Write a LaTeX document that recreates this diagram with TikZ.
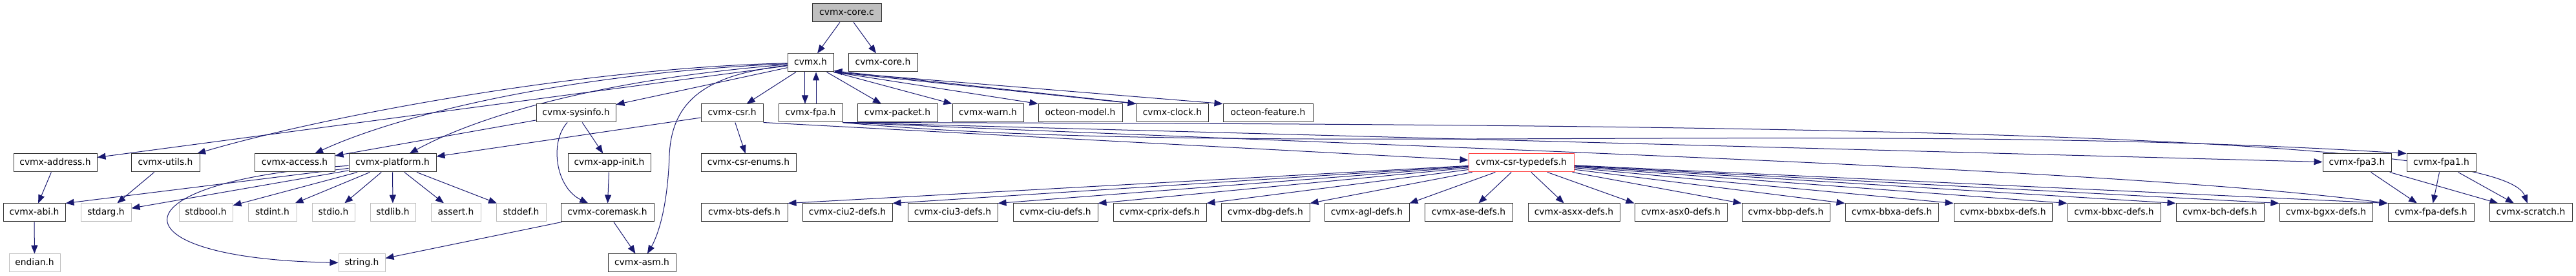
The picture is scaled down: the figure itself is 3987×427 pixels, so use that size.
\documentclass[tikz,border=0pt]{standalone}
\usepackage{fontspec}
\usepackage{xcolor}
\usepackage{tikz}
\usetikzlibrary{arrows.meta,backgrounds}
\newfontfamily\graphfont{DejaVu Sans}
\definecolor{edgeblue}{RGB}{25,25,112}
\definecolor{sysgray}{RGB}{191,191,191}
\definecolor{cutred}{RGB}{255,64,64}

\begin{document}
\begin{tikzpicture}[x=0.75pt, y=-0.75pt,
    file/.style={draw=black!80, fill=white, line width=0.75pt, minimum height=21pt,
      inner sep=0pt, text height=7.6pt, text depth=2.2pt,
      font=\graphfont\fontsize{10.4}{12}\selectfont},
    sysfile/.style={file, draw=sysgray},
    boxw/.style={minimum width=#1*0.75pt},
    inc/.style={draw=edgeblue, line width=0.75pt, -{Triangle[length=9.75pt,width=7.5pt]}}]
    %% one unit = one pixel of the 3987 x 427 graph; rows at y = 20, 97, 175, 252, 329, 407
    \useasboundingbox (0,0) rectangle (3987,427);

    % ---- ROW 0 / ROW 1 ----
    \node[file, boxw=107, fill=sysgray] (corec) at (1310.5,20) {cvmx-core.c};
    \node[file, boxw=71]  (cvmx)  at (1254.5,97) {cvmx.h};
    \node[file, boxw=107] (coreh) at (1366.5,97) {cvmx-core.h};

    % ---- ROW 2 ----
    \node[file, boxw=123] (sysinfo) at (891.5,175)  {cvmx-sysinfo.h};
    \node[file, boxw=96]  (csr)     at (1133,175)   {cvmx-csr.h};
    \node[file, boxw=99]  (fpa)     at (1254.5,175) {cvmx-fpa.h};
    \node[file, boxw=124] (packet)  at (1389,175)   {cvmx-packet.h};
    \node[file, boxw=110] (warn)    at (1529,175)   {cvmx-warn.h};
    \node[file, boxw=130] (model)   at (1672,175)   {octeon-model.h};
    \node[file, boxw=111] (clock)   at (1814.5,175) {cvmx-clock.h};
    \node[file, boxw=139] (feature) at (1962.5,175) {octeon-feature.h};

    % ---- ROW 3 ----
    \node[file, boxw=129] (address)  at (85.5,252)   {cvmx-address.h};
    \node[file, boxw=106] (utils)    at (256,252)    {cvmx-utils.h};
    \node[file, boxw=124] (access)   at (456,252)    {cvmx-access.h};
    \node[file, boxw=135] (platform) at (607.5,252)  {cvmx-platform.h};
    \node[file, boxw=128] (appinit)  at (943,252)    {cvmx-app-init.h};
    \node[file, boxw=147] (enums)    at (1158.5,252) {cvmx-csr-enums.h};
    \node[file, boxw=163, draw=cutred] (typedefs) at (2354.5,252) {cvmx-csr-typedefs.h};
    \node[file, boxw=106] (fpathree) at (3648,252)   {cvmx-fpa3.h};
    \node[file, boxw=107] (fpaone)   at (3778.5,252) {cvmx-fpa1.h};

    % ---- ROW 4 ----
    \node[file, boxw=96]     (abi)      at (53,329)    {cvmx-abi.h};
    \node[sysfile, boxw=78]  (stdarg)   at (164,329)   {stdarg.h};
    \node[sysfile, boxw=83]  (stdbool)  at (318.5,329) {stdbool.h};
    \node[sysfile, boxw=75]  (stdint)   at (421.5,329) {stdint.h};
    \node[sysfile, boxw=66]  (stdio)    at (516,329)   {stdio.h};
    \node[sysfile, boxw=70]  (stdlib)   at (608,329)   {stdlib.h};
    \node[sysfile, boxw=77]  (assert)   at (705.5,329) {assert.h};
    \node[sysfile, boxw=77]  (stddef)   at (806.5,329) {stddef.h};
    \node[file, boxw=144]    (coremask) at (940,329)   {cvmx-coremask.h};
    \foreach \id/\x/\w/\txt in {bts/1152/134/cvmx-bts-defs.h, ciutwo/1311.5/139/cvmx-ciu2-defs.h,
        ciuthree/1474.5/139/cvmx-ciu3-defs.h, ciu/1633.5/131/cvmx-ciu-defs.h,
        cprix/1795/144/cvmx-cprix-defs.h, dbg/1958.5/137/cvmx-dbg-defs.h,
        agl/2115.5/131/cvmx-agl-defs.h, ase/2273/136/cvmx-ase-defs.h,
        asxx/2436/142/cvmx-asxx-defs.h, asxzero/2601.5/143/cvmx-asx0-defs.h,
        bbp/2764/136/cvmx-bbp-defs.h, bbxa/2928/144/cvmx-bbxa-defs.h,
        bbxbx/3100/152/cvmx-bbxbx-defs.h, bbxc/3272/144/cvmx-bbxc-defs.h,
        bch/3436/136/cvmx-bch-defs.h, bgxx/3600/144/cvmx-bgxx-defs.h,
        fpadefs/3762.5/133/cvmx-fpa-defs.h} {
      \node[file, boxw=\w] (\id) at (\x,329) {\txt};
    }
    \node[file, boxw=128] (scratch) at (3917,329) {cvmx-scratch.h};

    % ---- ROW 5 ----
    \node[sysfile, boxw=79] (endian) at (53.5,407)  {endian.h};
    \node[sysfile, boxw=72] (string) at (560,407)   {string.h};
    \node[file, boxw=105]   (asm)    at (993.5,407) {cvmx-asm.h};

    % ---- EDGES ----
    \begin{scope}[on background layer]
    \draw[inc] (corec) -- (cvmx);
    \draw[inc] (corec) -- (coreh);
    % cvmx.h
    \draw[inc] (cvmx) -- (address);
    \draw[inc] (cvmx) .. controls (900,105) and (500,180) .. (utils);
    \draw[inc] (cvmx) .. controls (850,115) and (600,185) .. (access);
    \draw[inc] (cvmx) .. controls (900,125) and (720,190) .. (platform);
    \draw[inc] (cvmx) -- (sysinfo);
    \draw[inc] (cvmx) -- (csr);
    \draw[inc] (cvmx) -- (packet);
    \foreach \t in {warn,model,clock,feature} {
      \draw[inc] (cvmx.south east) -- (\t.north west);
    }
    \draw[inc] ([xshift=3pt]clock.north west) -- ([yshift=-9.5pt]cvmx.east);
    \draw[inc] ([xshift=-6.4pt]cvmx.south) -- ([xshift=-6.4pt]fpa.north);
    \draw[inc] ([xshift=6.4pt]fpa.north) -- ([xshift=6.4pt]cvmx.south);
    \draw[inc] (cvmx) .. controls (1100,115) and (1040,150) .. (1036,240)
      .. controls (1033,330) and (1015,370) .. (asm);
    % cvmx-sysinfo.h
    \draw[inc] (sysinfo) -- (access);
    \draw[inc] (sysinfo) -- (appinit);
    \draw[inc] (sysinfo) .. controls (850,220) and (860,290) .. (coremask);
    \draw[inc] (appinit) -- (coremask);
    \draw[inc] (coremask) -- (string);
    \draw[inc] (coremask) -- (asm);
    % cvmx-csr.h
    \draw[inc] (csr) -- (platform);
    \draw[inc] (csr) -- (enums);
    \draw[inc] (csr.south east) -- (typedefs);
    % cvmx-platform.h
    \draw[inc] (platform) -- (abi.north east);
    \foreach \t in {stdarg,stdbool,stdint,stdio,stdlib,assert,stddef} {
      \draw[inc] (platform) -- (\t);
    }
    \draw[inc] (platform) .. controls (170,280) and (170,400) .. (string);
    \draw[inc] (utils) -- (stdarg);
    \draw[inc] (address) -- (abi);
    \draw[inc] (abi) -- (endian);
    % cvmx-fpa.h
    \draw[inc] (fpa.south east) -- (fpathree);
    \draw[inc] (fpa.south east) .. controls (1900,245) and (2900,185) .. (fpaone.north west);
    \draw[inc] (fpa.south east) .. controls (2300,232) and (3300,262) .. (fpadefs.north west);
    \draw[inc] (fpa.south east) .. controls (2600,192) and (3870,200) .. (scratch);
    \foreach \s in {fpathree,fpaone} {
      \draw[inc] (\s) -- (fpadefs);
      \draw[inc] (\s) -- (scratch);
    }
    % cvmx-csr-typedefs.h
    \foreach \t in {bts,ciutwo,ciuthree,ciu,cprix,dbg,agl} {
      \draw[inc] (typedefs) -- (\t.north east);
    }
    \draw[inc] (typedefs) -- (ase);
    \draw[inc] (typedefs) -- (asxx);
    \foreach \t in {asxzero,bbp,bbxa,bbxbx,bbxc,bch,bgxx,fpadefs} {
      \draw[inc] (typedefs) -- (\t.north west);
    }
    \end{scope}

  \end{tikzpicture}
\end{document}
